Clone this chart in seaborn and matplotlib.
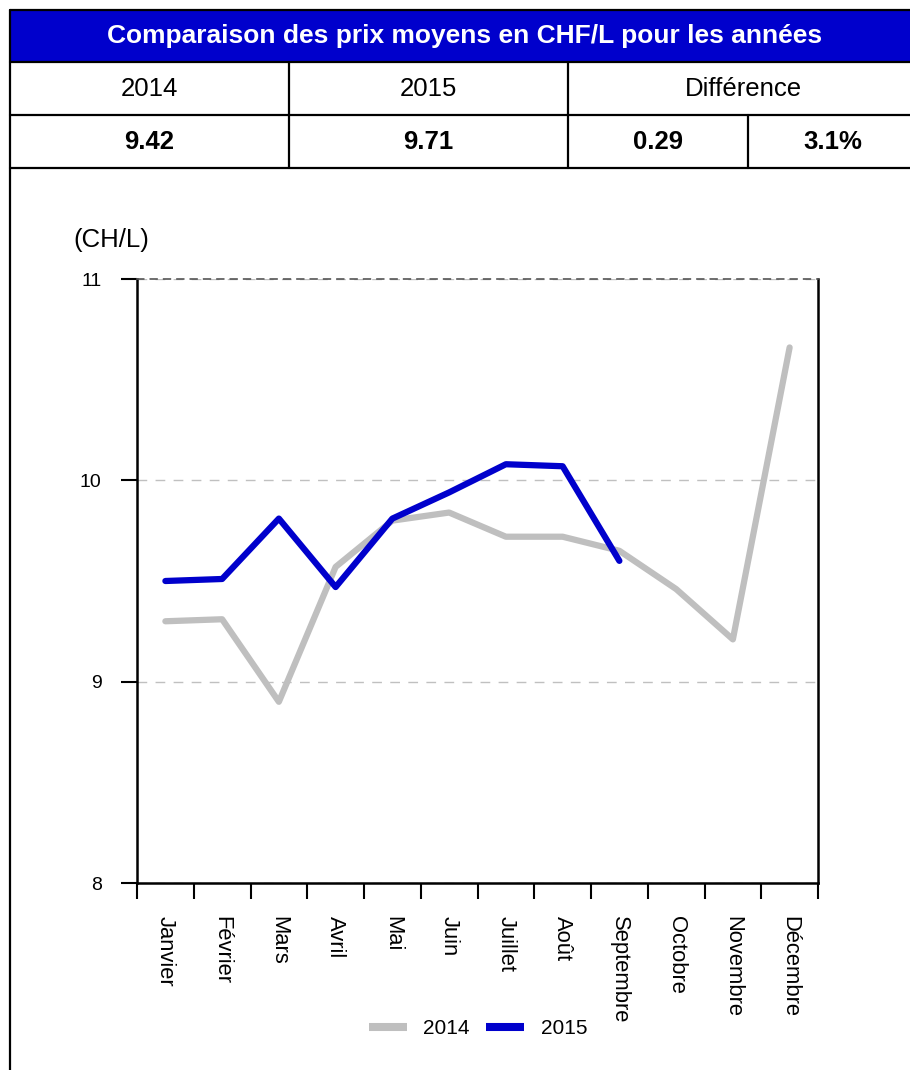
# -*- coding: utf-8 -*-
# Prix moyens CHF/L : tableau récapitulatif + courbes mensuelles 2014 / 2015
import numpy as np
import pandas as pd
import seaborn as sns
import matplotlib.pyplot as plt
from matplotlib.patches import Rectangle
from matplotlib.lines import Line2D

#%% Données
mois = ["Janvier", "Février", "Mars", "Avril", "Mai", "Juin", "Juillet",
        "Août", "Septembre", "Octobre", "Novembre", "Décembre"]
prix_2014 = [9.30, 9.31, 8.90, 9.57, 9.80, 9.84, 9.72, 9.72, 9.65, 9.46, 9.21, 10.66]
prix_2015 = [9.50, 9.51, 9.81, 9.47, 9.81, 9.94, 10.08, 10.07, 9.60]

titre = "Comparaison des prix moyens en CHF/L pour les années"
entetes = ["2014", "2015", "Différence"]
valeurs = ["9.42", "9.71", "0.29", "3.1%"]
yticks = [8, 9, 10, 11]
couleurs = {"2014": "#BFBFBF", "2015": "#0000CC"}

df = pd.concat([
    pd.DataFrame({"pos": np.arange(len(prix_2014)), "prix": prix_2014, "annee": "2014"}),
    pd.DataFrame({"pos": np.arange(len(prix_2015)), "prix": prix_2015, "annee": "2015"}),
], ignore_index=True)

#%% Figure
sns.set_theme(style="white")
plt.rcParams['font.family'] = ['Liberation Sans', 'DejaVu Sans']
plt.rcParams['text.color'] = "black"
plt.rcParams['xtick.color'] = "black"
plt.rcParams['ytick.color'] = "black"
plt.rcParams['axes.labelcolor'] = "black"

W, H = 910, 1070
def fx(x): return x / W
def fy(y): return 1 - y / H

fig = plt.figure(figsize=(W / 100, H / 100), dpi=100)

# tableau du haut
fig.add_artist(Rectangle((fx(10), fy(62)), fx(918) - fx(10), fy(10) - fy(62),
                         transform=fig.transFigure, facecolor="#0000CC", edgecolor="none"))
fig.text(fx(465), fy(36), titre, color="white", fontsize=19, fontweight="bold",
         ha="center", va="center")

def hline(y, x0=10, x1=918):
    fig.add_artist(Line2D([fx(x0), fx(x1)], [fy(y), fy(y)], transform=fig.transFigure,
                          color="black", lw=1.6))

def vline(x, y0, y1):
    fig.add_artist(Line2D([fx(x), fx(x)], [fy(y0), fy(y1)], transform=fig.transFigure,
                          color="black", lw=1.6))

for y in [10, 62, 115, 168]:
    hline(y)
vline(10, 10, 1070)
vline(289, 62, 168)
vline(568, 62, 168)
vline(748, 115, 168)

for x, txt in zip([149, 428, 743], entetes):
    fig.text(fx(x), fy(89), txt, fontsize=18.5, ha="center", va="center")
for x, txt in zip([149, 428, 658, 833], valeurs):
    fig.text(fx(x), fy(142), txt, fontsize=18.5, fontweight="bold", ha="center", va="center")

#%% Graphique
ax = fig.add_axes([fx(137), fy(883), fx(818) - fx(137), fy(279) - fy(883)])
sns.lineplot(data=df, x="pos", y="prix", hue="annee", palette=couleurs,
             hue_order=["2014", "2015"], lw=4.5, ax=ax, legend=False,
             solid_capstyle="round")

ax.set_xlim(-0.5, 11.5)
ax.set_ylim(8, 11)
ax.set_xlabel("")
ax.set_ylabel("")

ax.set_xticks(np.arange(-0.5, 12, 1))
ax.set_xticklabels([])
ax.set_xticks(np.arange(12), minor=True)
ax.set_xticklabels(mois, minor=True, rotation=-90, fontsize=15.8)
ax.tick_params(axis="x", which="major", direction="out", length=11.5, width=1.5,
               bottom=True, color="black")
ax.tick_params(axis="x", which="minor", length=0, pad=24)

ax.set_yticks(yticks)
ax.set_yticklabels([str(v) for v in yticks], fontsize=14)
ax.tick_params(axis="y", direction="out", length=11.5, width=1.5, left=True,
               pad=14, color="black")

ax.yaxis.grid(True, linestyle=(0, (7, 6)), color="#C0C0C0", lw=1)
ax.xaxis.grid(False)

for s in ["left", "right", "bottom"]:
    ax.spines[s].set_color("black")
    ax.spines[s].set_linewidth(1.8)
ax.spines["top"].set_color("#555555")
ax.spines["top"].set_linestyle((0, (4, 4)))
ax.spines["top"].set_linewidth(1.2)

fig.text(fx(73), fy(240), "(CH/L)", fontsize=18.5, ha="left", va="center")

handles = [Line2D([], [], color=couleurs[k], lw=5.8, solid_capstyle="butt")
           for k in ["2014", "2015"]]
ax.legend(handles, ["2014", "2015"], loc="center", bbox_to_anchor=(fx(478), fy(1029)),
          bbox_transform=fig.transFigure, ncol=2, frameon=False, fontsize=15,
          handlelength=1.8, handletextpad=0.8, columnspacing=0.8)

fig.savefig("out.png", dpi=100)
